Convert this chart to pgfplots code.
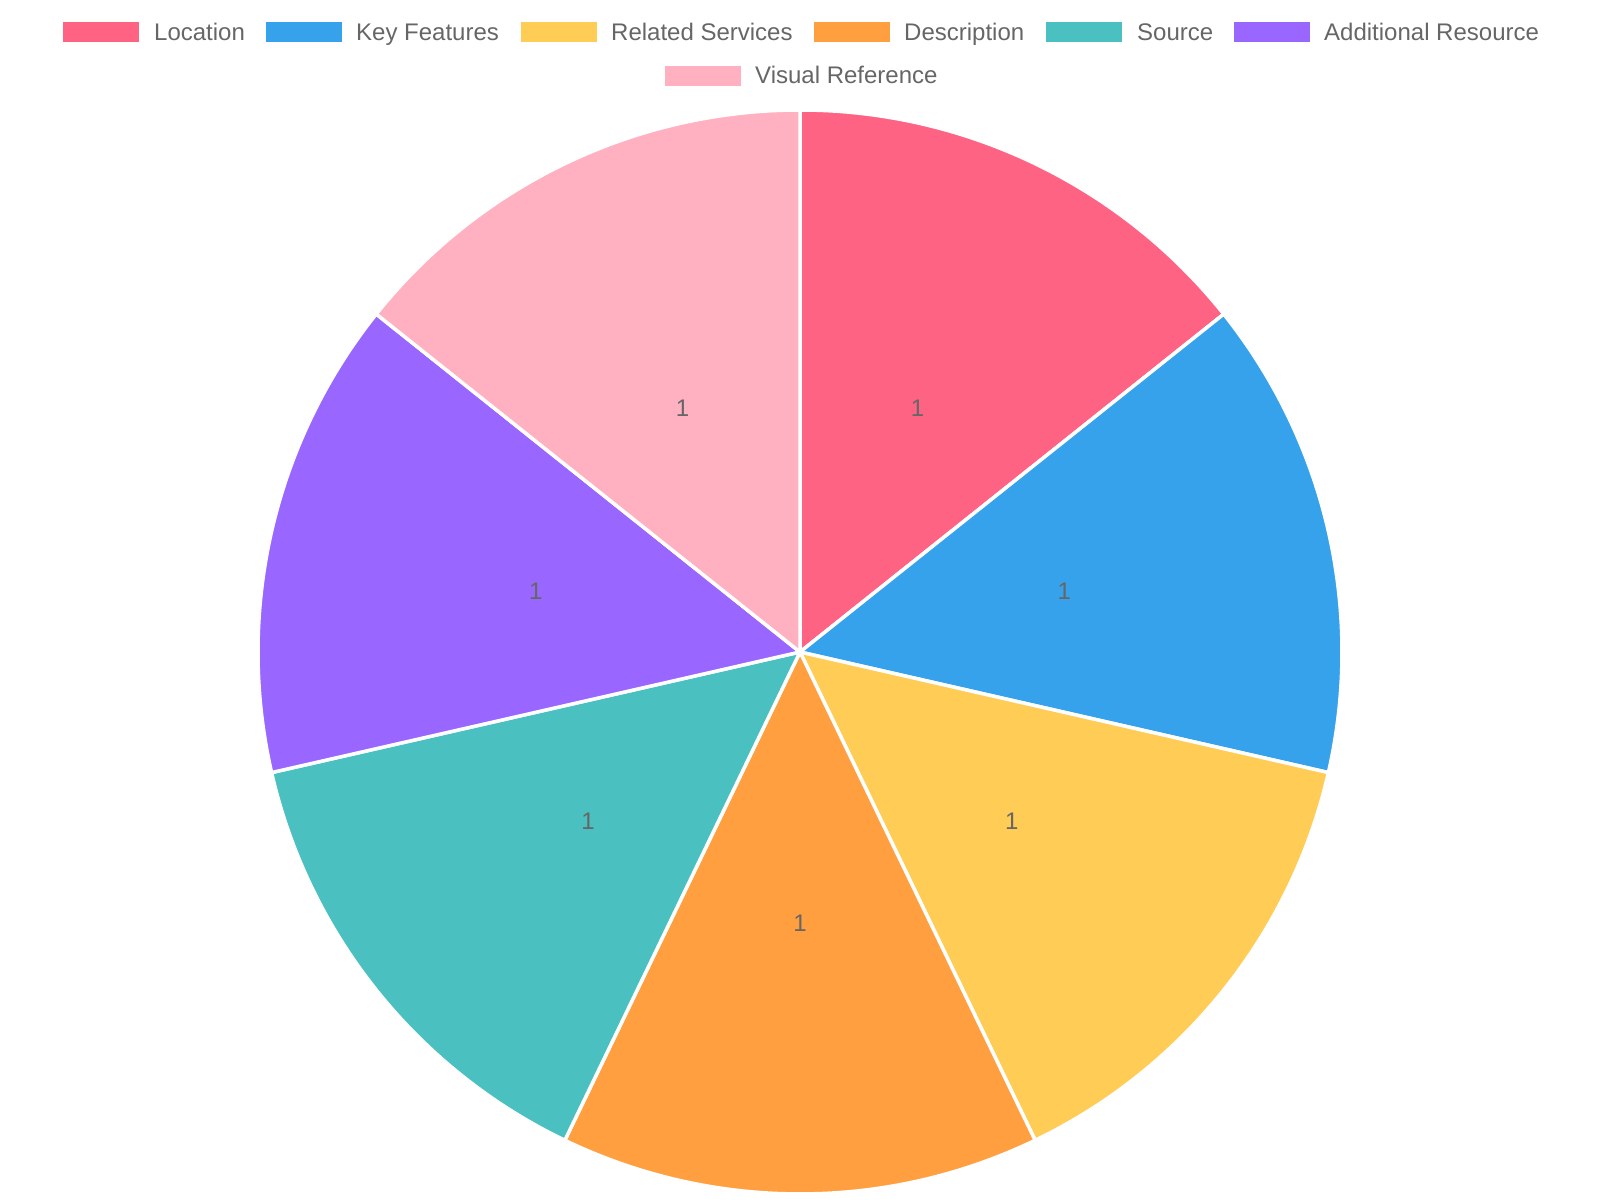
\documentclass[border=0pt]{standalone}
\usepackage{pgfplots}
\pgfplotsset{compat=1.18}
\usepackage{pgfplotstable}
\usepackage{fontspec}
\setmainfont{Liberation Sans}
\definecolor{pc0}{HTML}{FF6384}
\definecolor{pc1}{HTML}{36A2EB}
\definecolor{pc2}{HTML}{FFCD56}
\definecolor{pc3}{HTML}{FF9F40}
\definecolor{pc4}{HTML}{4BC0C0}
\definecolor{pc5}{HTML}{9966FF}
\definecolor{pc6}{HTML}{FFB1C1}
\definecolor{labelgray}{HTML}{666666}
\newcommand\chartfont{\fontsize{24bp}{28bp}\selectfont}
\pgfplotstableread[col sep=comma]{
label,value
Location,1
Key Features,1
Related Services,1
Description,1
Source,1
Additional Resource,1
Visual Reference,1
}\piedata
\begin{document}
\begin{tikzpicture}
\begin{axis}[x=1bp,y=1bp,xmin=0,xmax=1600,ymin=0,ymax=1200,hide axis,ticks=none,clip=false,anchor=origin,at={(0,0)}]
\path (axis cs:0,0) rectangle (axis cs:1600,1200);
\pgfmathsetmacro\total{0}
\pgfplotsforeachungrouped \i in {0,...,6}{%
  \pgfplotstablegetelem{\i}{value}\of\piedata
  \pgfmathsetmacro\total{\total+\pgfplotsretval}%
}
\pgfmathsetmacro\cum{0}
\pgfplotsforeachungrouped \i in {0,...,6}{%
  \pgfplotstablegetelem{\i}{value}\of\piedata
  \let\val\pgfplotsretval
  \pgfmathsetmacro\a{90-360*\cum/\total}%
  \pgfmathsetmacro\b{90-360*(\cum+\val)/\total}%
  \pgfmathsetmacro\cum{\cum+\val}%
  \edef\temp{\noexpand\fill[fill=pc\i, draw=white, line width=3.5bp, line join=round] (axis cs:800,548) -- ++(\a:542bp) arc[start angle=\a, end angle=\b, radius=542bp] -- cycle;}%
  \temp
}
\pgfmathsetmacro\cum{0}
\pgfplotsforeachungrouped \i in {0,...,6}{%
  \pgfplotstablegetelem{\i}{value}\of\piedata
  \let\val\pgfplotsretval
  \pgfmathsetmacro\a{90-360*\cum/\total}%
  \pgfmathsetmacro\b{90-360*(\cum+\val)/\total}%
  \pgfmathsetmacro\m{(\a+\b)/2}%
  \pgfmathsetmacro\cum{\cum+\val}%
  \edef\temp{\noexpand\path (axis cs:800,548) ++(\m:271bp) node[text=labelgray, inner sep=0pt, font=\noexpand\chartfont] {\val};}%
  \temp
}
% legend row 1
\fill[pc0] (axis cs:63,1158) rectangle (axis cs:139,1178);
\node[anchor=base west, inner sep=0pt, text=labelgray, font=\chartfont] at (axis cs:154,1159) {Location};
\fill[pc1] (axis cs:266,1158) rectangle (axis cs:342,1178);
\node[anchor=base west, inner sep=0pt, text=labelgray, font=\chartfont] at (axis cs:356,1159) {Key Features};
\fill[pc2] (axis cs:521,1158) rectangle (axis cs:597,1178);
\node[anchor=base west, inner sep=0pt, text=labelgray, font=\chartfont] at (axis cs:611,1159) {Related Services};
\fill[pc3] (axis cs:814,1158) rectangle (axis cs:890,1178);
\node[anchor=base west, inner sep=0pt, text=labelgray, font=\chartfont] at (axis cs:904,1159) {Description};
\fill[pc4] (axis cs:1046,1158) rectangle (axis cs:1122,1178);
\node[anchor=base west, inner sep=0pt, text=labelgray, font=\chartfont] at (axis cs:1137,1159) {Source};
\fill[pc5] (axis cs:1234,1158) rectangle (axis cs:1310,1178);
\node[anchor=base west, inner sep=0pt, text=labelgray, font=\chartfont] at (axis cs:1324,1159) {Additional Resource};
% legend row 2
\fill[pc6] (axis cs:665,1114) rectangle (axis cs:741,1134);
\node[anchor=base west, inner sep=0pt, text=labelgray, font=\chartfont] at (axis cs:755,1116) {Visual Reference};
\end{axis}
\pgfresetboundingbox
\path[use as bounding box] (0,0) rectangle (1600bp,1200bp);
\end{tikzpicture}
\end{document}
